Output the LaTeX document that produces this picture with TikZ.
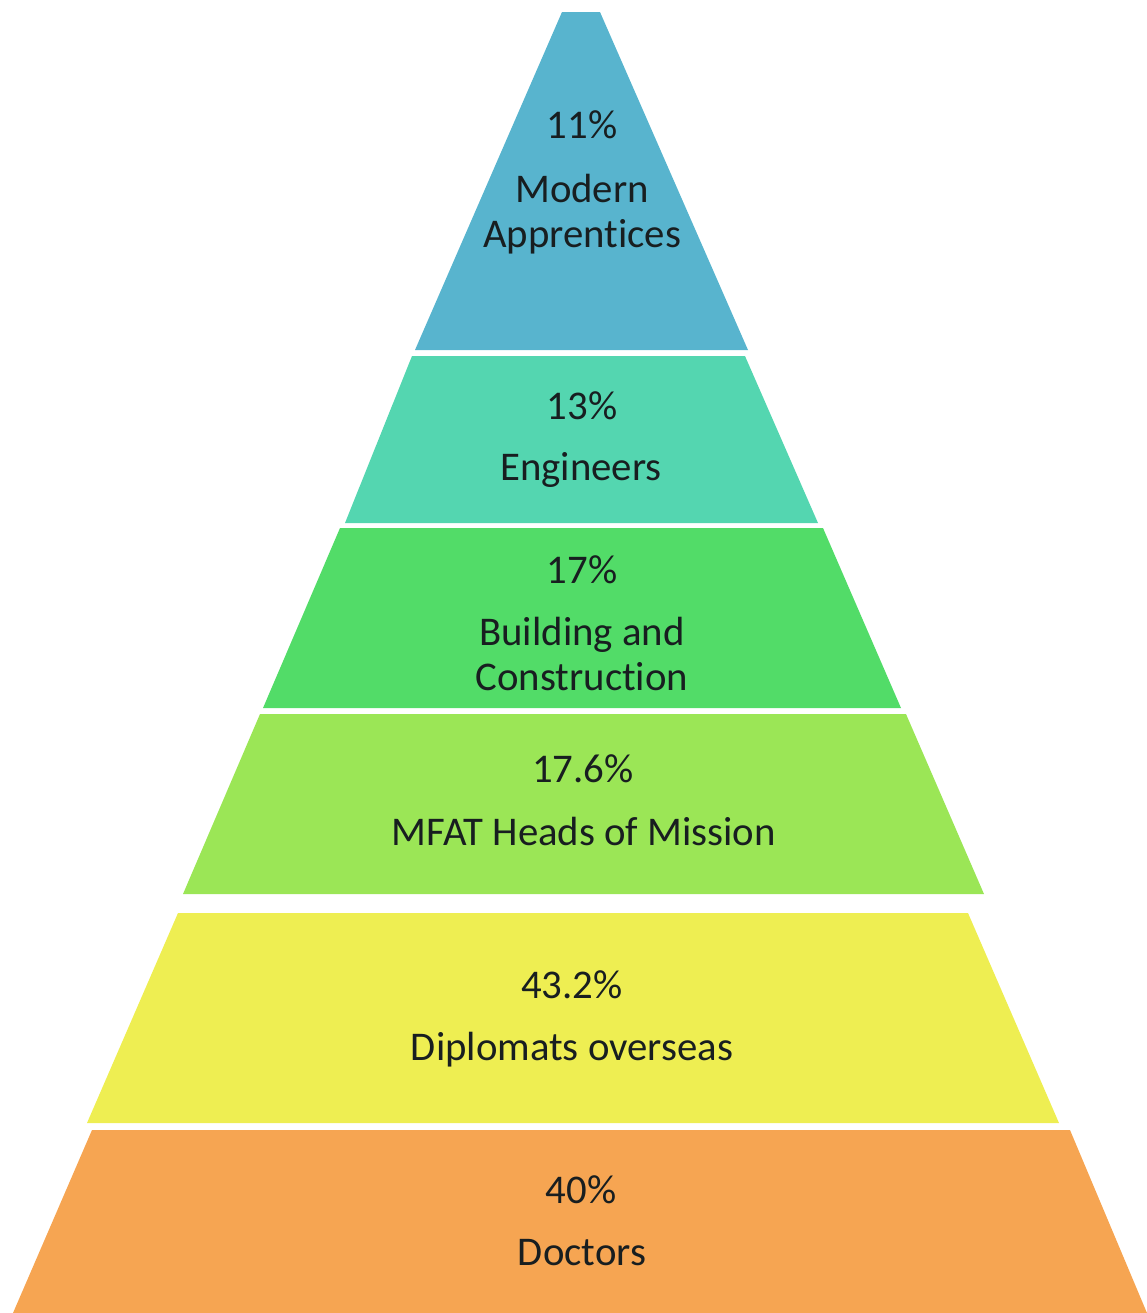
\documentclass[tikz,border=0pt]{standalone}
\usepackage{fontspec}
\setmainfont[Ligatures=NoCommon]{Carlito}
\usepackage{tikz}

\definecolor{tierblue}{RGB}{88,180,206}
\definecolor{tierteal}{RGB}{84,214,176}
\definecolor{tiergreen}{RGB}{82,220,104}
\definecolor{tierlime}{RGB}{155,230,86}
\definecolor{tieryellow}{RGB}{238,238,82}
\definecolor{tierorange}{RGB}{246,165,82}
\definecolor{tiertext}{RGB}{24,30,32}

\begin{document}
\begin{tikzpicture}[x=0.02cm, y=-0.02cm,
  tier/.style={draw=none},
  pct/.style={anchor=base, inner sep=0pt, text=tiertext,
              font=\fontsize{23.2}{25.6}\selectfont},
  label/.style={pct, align=center}
]
  \useasboundingbox (0,0) rectangle (1147,1313);

  % Pyramid tiers, top to bottom
  \fill[tier, tierblue]   (562,12)  -- (600,12)  -- (748,350)  -- (415,350)  -- cycle;
  \fill[tier, tierteal]   (412,356) -- (745,356) -- (818,523)  -- (345,523)  -- cycle;
  \fill[tier, tiergreen]  (340,528) -- (823,528) -- (901,708)  -- (263,708)  -- cycle;
  \fill[tier, tierlime]   (260,714) -- (906,714) -- (984,894)  -- (183,894)  -- cycle;
  \fill[tier, tieryellow] (178,913) -- (968,913) -- (1059,1123) -- (87,1123) -- cycle;
  \fill[tier, tierorange] (92,1130) -- (1070,1130) -- (1147,1313) -- (13,1313) -- cycle;

  % Percentages
  \node[pct] (pct1) at (582,138)  {11\%};
  \node[pct] (pct2) at (582,419)  {13\%};
  \node[pct] (pct3) at (582,583)  {17\%};
  \node[pct] (pct4) at (583,782)  {17.6\%};
  \node[pct] (pct5) at (572,998)  {43.2\%};
  \node[pct] (pct6) at (581,1203) {40\%};

  % Group names (base = last line)
  \node[label] (lab1) at (582,247)  {Modern\\Apprentices};
  \node[label] (lab2) at (581,480)  {Engineers};
  \node[label] (lab3) at (582,690)  {Building and\\Construction};
  \node[label] (lab4) at (584,845)  {MFAT Heads of Mission};
  \node[label] (lab5) at (572,1060) {Diplomats overseas};
  \node[label] (lab6) at (582,1265) {Doctors};
\end{tikzpicture}
\end{document}
